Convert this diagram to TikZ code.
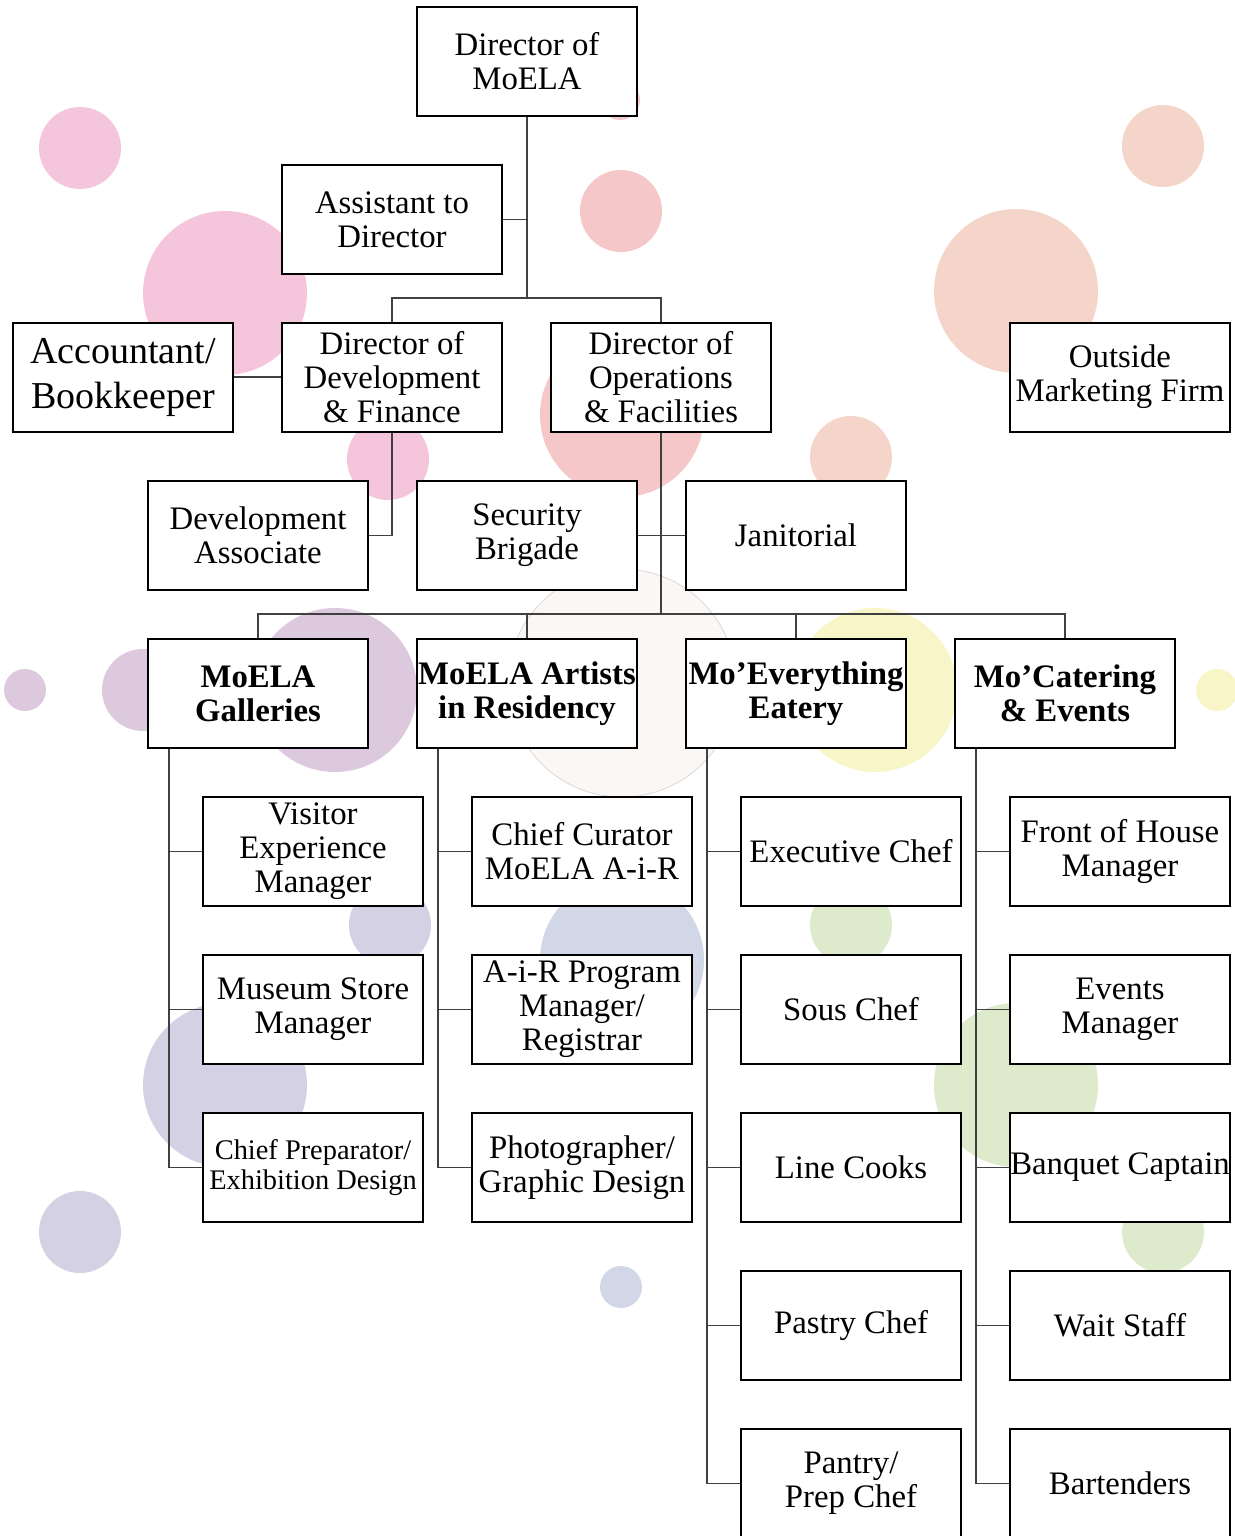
\documentclass[tikz,border=0pt]{standalone}
\usepackage{fontspec}
\setmainfont{Liberation Serif}
\usetikzlibrary{positioning}
\definecolor{dotpink}{HTML}{F5C6DB}
\definecolor{dotsalmon}{HTML}{F5C7C8}
\definecolor{dotpeach}{HTML}{F5D5C9}
\definecolor{dotpurple}{HTML}{DCC9DE}
\definecolor{dotlav}{HTML}{D4D1E4}
\definecolor{dotblue}{HTML}{D2D7E8}
\definecolor{dotyellow}{HTML}{F8F6C9}
\definecolor{dotgreen}{HTML}{DDEACC}
\definecolor{dotfaint}{HTML}{FBF7F5}
\tikzset{
  rolebox/.style={rectangle, draw=black, line width=1pt, fill=white, minimum width=110pt, minimum height=54.5pt, inner sep=0.5pt, align=center, font=\fontsize{16.4}{17}\selectfont},
  headbox/.style={rolebox, font=\fontsize{16.4}{17}\selectfont\bfseries},
  link/.style={draw=black!75, line width=0.7pt}
}

\begin{document}
\begin{tikzpicture}[x=0.5pt, y=-0.5pt, node distance=23.5pt]
\useasboundingbox (0,0) rectangle (1235,1536);

% background dots
\foreach \cx/\cy/\r/\c in {80/148/41/dotpink, 225/293/82/dotpink, 388/459/41/dotpink,
  620/100/20/dotsalmon, 621/211/41/dotsalmon, 622/415/82/dotsalmon,
  1163/146/41/dotpeach, 1016/291/82/dotpeach, 851/457/41/dotpeach,
  25/690/21/dotpurple, 143/690/41/dotpurple, 335/690/82/dotpurple,
  875/690/82/dotyellow, 1217/690/21/dotyellow,
  390/925/41/dotlav, 225/1085/82/dotlav, 80/1232/41/dotlav,
  622/960/82/dotblue, 621/1287/21/dotblue,
  851/925/41/dotgreen, 1016/1085/82/dotgreen, 1163/1232/41/dotgreen} {
  \fill[\c] (\cx,\cy) circle [radius=\r*0.5pt];
}
\draw[draw=black!15, fill=dotfaint, line width=0.4pt] (622,683) circle [radius=57pt];

% top of the chart
\node[rolebox] (dir) at (527,61.5) {Director of\\MoELA};
\node[rolebox] (asst) at (392,219.5) {Assistant to\\Director};
\node[rolebox] (devfin) at (392,377) {Director of\\Development\\\& Finance};
\node[rolebox, right=of devfin] (opsfac) {Director of\\Operations\\\& Facilities};
\node[rolebox, left=of devfin, font=\fontsize{19}{22.5}\selectfont] (acct) {Accountant/\\Bookkeeper};
\node[rolebox] (mktg) at (1120,377) {Outside\\Marketing Firm};

\node[rolebox] (devassoc) at (258,535.5) {Development\\Associate};
\node[rolebox, right=of devassoc] (security) {Security\\Brigade};
\node[rolebox, right=of security] (janitor) {Janitorial};

% the four businesses
\node[headbox] (gal) at (258,693.5) {MoELA\\Galleries};
\node[headbox] (air) at (527,693.5) {MoELA Artists\\in Residency};
\node[headbox] (eat) at (796,693.5) {Mo’Everything\\Eatery};
\node[headbox] (cat) at (1065,693.5) {Mo’Catering\\\& Events};

% galleries staff
\node[rolebox, below=of gal, xshift=27.5pt] (visitor) {Visitor\\Experience\\Manager};
\node[rolebox, below=of visitor] (store) {Museum Store\\Manager};
\node[rolebox, below=of store, font=\fontsize{14.2}{15}\selectfont] (prep) {Chief Preparator/\\Exhibition Design};

% residency staff
\node[rolebox, below=of air, xshift=27.5pt] (curator) {Chief Curator\\MoELA A-i-R};
\node[rolebox, below=of curator] (program) {A-i-R Program\\Manager/\\Registrar};
\node[rolebox, below=of program] (photo) {Photographer/\\Graphic Design};

% eatery staff
\node[rolebox, below=of eat, xshift=27.5pt] (exec) {Executive Chef};
\node[rolebox, below=of exec] (sous) {Sous Chef};
\node[rolebox, below=of sous] (line) {Line Cooks};
\node[rolebox, below=of line] (pastry) {Pastry Chef};
\node[rolebox, below=of pastry] (pantry) {Pantry/\\Prep Chef};

% catering staff
\node[rolebox, below=of cat, xshift=27.5pt] (foh) {Front of House\\Manager};
\node[rolebox, below=of foh] (events) {Events\\Manager};
\node[rolebox, below=of events] (banquet) {\makebox[100pt]{Banquet Captain}};
\node[rolebox, below=of banquet] (wait) {Wait Staff};
\node[rolebox, below=of wait] (bar) {Bartenders};

% connectors
\coordinate (topbus) at (527,298);
\coordinate (midbus) at (661,614);
\draw[link] (dir.south) -- (topbus);
\draw[link] (asst.east) -- (asst.east -| topbus);
\draw[link] (devfin.north) |- (topbus) -| (opsfac.north);
\draw[link] (acct.east) -- (devfin.west);
\draw[link] (devfin.south) |- (devassoc.east);
\draw[link] (opsfac.south) -- (midbus);
\draw[link] (security.east) -- (janitor.west);
\draw[link] (gal.north) |- (midbus) -| (cat.north);
\draw[link] (air.north) -- (air.north |- midbus);
\draw[link] (eat.north) -- (eat.north |- midbus);

\foreach \h/\s in {gal/visitor, gal/store, gal/prep,
  air/curator, air/program, air/photo,
  eat/exec, eat/sous, eat/line, eat/pastry, eat/pantry,
  cat/foh, cat/events, cat/banquet, cat/wait, cat/bar} {
  \draw[link] ([xshift=11pt]\h.south west) |- (\s.west);
}
\end{tikzpicture}
\end{document}
